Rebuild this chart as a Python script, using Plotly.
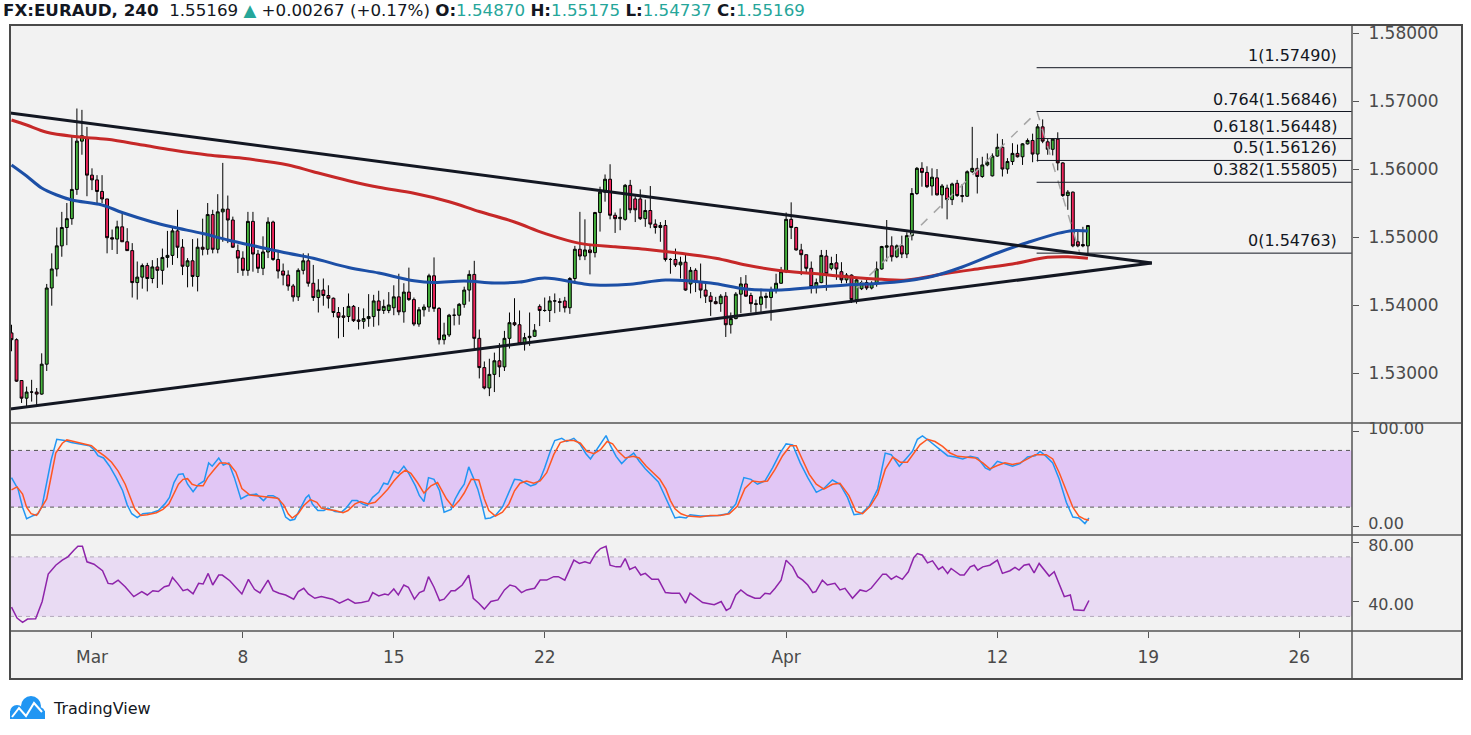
import plotly.graph_objects as go

# ------------------------------------------------------------------ data
symbol = "FX:EURAUD"
interval = "240"
hdr_change = 0.00267
hdr_pct = 0.17

opens = [
    1.5359, 1.5349, 1.5289, 1.5263, 1.5272, 1.5272, 1.5269, 1.5313, 1.5425, 1.5453,
    1.5487, 1.5514, 1.5527, 1.5570, 1.5641, 1.5645, 1.5591, 1.5584, 1.5567, 1.5556,
    1.5499, 1.5497, 1.5515, 1.5493, 1.5480, 1.5433, 1.5441, 1.5458, 1.5439, 1.5456,
    1.5451, 1.5470, 1.5473, 1.5509, 1.5485, 1.5457, 1.5465, 1.5442, 1.5485, 1.5482,
    1.5533, 1.5482, 1.5537, 1.5541, 1.5525, 1.5480, 1.5469, 1.5451, 1.5523, 1.5475,
    1.5454, 1.5478, 1.5522, 1.5467, 1.5450, 1.5444, 1.5428, 1.5412, 1.5451, 1.5465,
    1.5432, 1.5411, 1.5422, 1.5414, 1.5410, 1.5389, 1.5384, 1.5383, 1.5398, 1.5378,
    1.5376, 1.5380, 1.5383, 1.5406, 1.5392, 1.5392, 1.5396, 1.5412, 1.5390, 1.5419,
    1.5408, 1.5372, 1.5393, 1.5397, 1.5443, 1.5395, 1.5349, 1.5356, 1.5385, 1.5385,
    1.5401, 1.5422, 1.5445, 1.5351, 1.5308, 1.5278, 1.5298, 1.5318, 1.5309, 1.5351,
    1.5374, 1.5371, 1.5343, 1.5352, 1.5354, 1.5398, 1.5392, 1.5392, 1.5406, 1.5405,
    1.5406, 1.5396, 1.5439, 1.5482, 1.5472, 1.5481, 1.5477, 1.5536, 1.5566, 1.5585,
    1.5532, 1.5527, 1.5526, 1.5576, 1.5556, 1.5556, 1.5527, 1.5539, 1.5519, 1.5514,
    1.5517, 1.5467, 1.5467, 1.5459, 1.5463, 1.5431, 1.5451, 1.5434, 1.5422, 1.5413,
    1.5405, 1.5402, 1.5413, 1.5371, 1.5380, 1.5416, 1.5431, 1.5414, 1.5402, 1.5401,
    1.5411, 1.5411, 1.5423, 1.5432, 1.5449, 1.5526, 1.5514, 1.5481, 1.5474, 1.5454,
    1.5427, 1.5433, 1.5472, 1.5454, 1.5462, 1.5449, 1.5437, 1.5444, 1.5408, 1.5424,
    1.5433, 1.5425, 1.5432, 1.5453, 1.5485, 1.5487, 1.5471, 1.5487, 1.5475, 1.5502,
    1.5564, 1.5601, 1.5595, 1.5575, 1.5587, 1.5562, 1.5572, 1.5555, 1.5579, 1.5561,
    1.5560, 1.5596, 1.5601, 1.5589, 1.5606, 1.5590, 1.5619, 1.5632, 1.5600, 1.5611,
    1.5623, 1.5618, 1.5637, 1.5642, 1.5622, 1.5662, 1.5640, 1.5629, 1.5644, 1.5609,
    1.5561, 1.5566, 1.5493, 1.5489, 1.54870,
]
highs = [
    1.5371, 1.5351, 1.5289, 1.5280, 1.5290, 1.5278, 1.5329, 1.5431, 1.5476, 1.5514,
    1.5537, 1.5550, 1.5649, 1.5689, 1.5687, 1.5662, 1.5601, 1.5591, 1.5591, 1.5556,
    1.5511, 1.5524, 1.5535, 1.5513, 1.5491, 1.5464, 1.5461, 1.5462, 1.5466, 1.5469,
    1.5483, 1.5509, 1.5515, 1.5540, 1.5497, 1.5469, 1.5497, 1.5498, 1.5527, 1.5550,
    1.5540, 1.5563, 1.5609, 1.5561, 1.5530, 1.5489, 1.5479, 1.5537, 1.5537, 1.5481,
    1.5501, 1.5529, 1.5524, 1.5481, 1.5461, 1.5451, 1.5431, 1.5454, 1.5476, 1.5476,
    1.5459, 1.5438, 1.5439, 1.5429, 1.5411, 1.5397, 1.5397, 1.5417, 1.5400, 1.5397,
    1.5395, 1.5416, 1.5415, 1.5421, 1.5408, 1.5419, 1.5429, 1.5446, 1.5432, 1.5455,
    1.5411, 1.5397, 1.5401, 1.5446, 1.5470, 1.5397, 1.5374, 1.5387, 1.5395, 1.5403,
    1.5427, 1.5451, 1.5465, 1.5364, 1.5317, 1.5321, 1.5330, 1.5344, 1.5362, 1.5389,
    1.5410, 1.5392, 1.5359, 1.5389, 1.5372, 1.5401, 1.5411, 1.5413, 1.5417, 1.5410,
    1.5412, 1.5441, 1.5487, 1.5537, 1.5526, 1.5490, 1.5537, 1.5574, 1.5592, 1.5607,
    1.5536, 1.5542, 1.5578, 1.5584, 1.5560, 1.5570, 1.5555, 1.5575, 1.5526, 1.5522,
    1.5525, 1.5469, 1.5483, 1.5471, 1.5476, 1.5456, 1.5454, 1.5461, 1.5434, 1.5419,
    1.5412, 1.5416, 1.5419, 1.5389, 1.5419, 1.5441, 1.5444, 1.5418, 1.5408, 1.5424,
    1.5418, 1.5427, 1.5446, 1.5456, 1.5536, 1.5551, 1.5515, 1.5490, 1.5474, 1.5464,
    1.5439, 1.5481, 1.5481, 1.5471, 1.5475, 1.5463, 1.5447, 1.5445, 1.5440, 1.5436,
    1.5437, 1.5435, 1.5464, 1.5487, 1.5525, 1.5501, 1.5489, 1.5502, 1.5507, 1.5572,
    1.5603, 1.5610, 1.5604, 1.5601, 1.5600, 1.5578, 1.5577, 1.5580, 1.5584, 1.5578,
    1.5598, 1.5662, 1.5616, 1.5618, 1.5623, 1.5623, 1.5652, 1.5644, 1.5616, 1.5638,
    1.5636, 1.5638, 1.5645, 1.5652, 1.5666, 1.5673, 1.5644, 1.5645, 1.5654, 1.5610,
    1.5569, 1.5567, 1.5508, 1.5515, 1.55175,
]
lows = [
    1.5332, 1.5287, 1.5256, 1.5251, 1.5258, 1.5253, 1.5268, 1.5303, 1.5399, 1.5442,
    1.5471, 1.5488, 1.5518, 1.5562, 1.5621, 1.5560, 1.5569, 1.5547, 1.5550, 1.5476,
    1.5481, 1.5475, 1.5493, 1.5480, 1.5411, 1.5408, 1.5424, 1.5420, 1.5432, 1.5425,
    1.5430, 1.5455, 1.5459, 1.5469, 1.5444, 1.5426, 1.5427, 1.5420, 1.5473, 1.5474,
    1.5476, 1.5476, 1.5493, 1.5491, 1.5484, 1.5447, 1.5443, 1.5443, 1.5449, 1.5447,
    1.5444, 1.5469, 1.5465, 1.5439, 1.5429, 1.5421, 1.5405, 1.5406, 1.5445, 1.5427,
    1.5406, 1.5389, 1.5399, 1.5395, 1.5382, 1.5351, 1.5353, 1.5375, 1.5375, 1.5364,
    1.5365, 1.5368, 1.5368, 1.5370, 1.5387, 1.5388, 1.5385, 1.5385, 1.5374, 1.5406,
    1.5369, 1.5368, 1.5383, 1.5390, 1.5390, 1.5342, 1.5342, 1.5353, 1.5370, 1.5371,
    1.5396, 1.5405, 1.5336, 1.5292, 1.5276, 1.5266, 1.5272, 1.5294, 1.5303, 1.5336,
    1.5369, 1.5342, 1.5333, 1.5340, 1.5353, 1.5369, 1.5390, 1.5375, 1.5388, 1.5390,
    1.5389, 1.5387, 1.5431, 1.5466, 1.5466, 1.5445, 1.5470, 1.5508, 1.5552, 1.5526,
    1.5506, 1.5510, 1.5524, 1.5535, 1.5522, 1.5525, 1.5515, 1.5513, 1.5505, 1.5493,
    1.5464, 1.5446, 1.5456, 1.5439, 1.5421, 1.5417, 1.5419, 1.5410, 1.5403, 1.5384,
    1.5401, 1.5390, 1.5353, 1.5358, 1.5379, 1.5388, 1.5412, 1.5389, 1.5389, 1.5390,
    1.5395, 1.5377, 1.5417, 1.5431, 1.5447, 1.5497, 1.5480, 1.5444, 1.5446, 1.5417,
    1.5417, 1.5432, 1.5421, 1.5451, 1.5437, 1.5432, 1.5432, 1.5403, 1.5402, 1.5422,
    1.5422, 1.5423, 1.5427, 1.5452, 1.5464, 1.5464, 1.5469, 1.5469, 1.5469, 1.5495,
    1.5562, 1.5574, 1.5572, 1.5561, 1.5561, 1.5542, 1.5526, 1.5547, 1.5559, 1.5551,
    1.5559, 1.5594, 1.5564, 1.5587, 1.5604, 1.5589, 1.5618, 1.5589, 1.5593, 1.5606,
    1.5617, 1.5606, 1.5636, 1.5610, 1.5611, 1.5638, 1.5621, 1.5620, 1.5598, 1.5559,
    1.5540, 1.5485, 1.5485, 1.5485, 1.54737,
]
closes = [
    1.5349, 1.5288, 1.5263, 1.5272, 1.5272, 1.5269, 1.5313, 1.5425, 1.5453, 1.5487,
    1.5514, 1.5527, 1.5570, 1.5641, 1.5649, 1.5591, 1.5584, 1.5567, 1.5556, 1.5499,
    1.5497, 1.5515, 1.5493, 1.5480, 1.5433, 1.5441, 1.5458, 1.5439, 1.5456, 1.5451,
    1.5470, 1.5473, 1.5509, 1.5485, 1.5457, 1.5465, 1.5442, 1.5485, 1.5482, 1.5533,
    1.5482, 1.5537, 1.5541, 1.5525, 1.5485, 1.5469, 1.5451, 1.5523, 1.5475, 1.5454,
    1.5478, 1.5522, 1.5467, 1.5450, 1.5444, 1.5428, 1.5412, 1.5451, 1.5465, 1.5432,
    1.5411, 1.5422, 1.5414, 1.5410, 1.5389, 1.5382, 1.5382, 1.5398, 1.5377, 1.5376,
    1.5380, 1.5383, 1.5406, 1.5392, 1.5398, 1.5400, 1.5412, 1.5390, 1.5419, 1.5408,
    1.5372, 1.5393, 1.5397, 1.5443, 1.5395, 1.5349, 1.5356, 1.5385, 1.5385, 1.5401,
    1.5422, 1.5445, 1.5351, 1.5308, 1.5278, 1.5298, 1.5318, 1.5309, 1.5351, 1.5374,
    1.5371, 1.5343, 1.5352, 1.5354, 1.5363, 1.5392, 1.5392, 1.5406, 1.5406, 1.5404,
    1.5396, 1.5439, 1.5482, 1.5472, 1.5481, 1.5477, 1.5536, 1.5566, 1.5585, 1.5532,
    1.5527, 1.5529, 1.5576, 1.5540, 1.5540, 1.5527, 1.5539, 1.5519, 1.5514, 1.5517,
    1.5467, 1.5467, 1.5459, 1.5463, 1.5422, 1.5451, 1.5434, 1.5422, 1.5413, 1.5405,
    1.5402, 1.5413, 1.5371, 1.5380, 1.5416, 1.5431, 1.5413, 1.5402, 1.5401, 1.5412,
    1.5413, 1.5423, 1.5432, 1.5449, 1.5526, 1.5514, 1.5481, 1.5474, 1.5454, 1.5427,
    1.5433, 1.5473, 1.5446, 1.5461, 1.5453, 1.5437, 1.5444, 1.5408, 1.5437, 1.5433,
    1.5425, 1.5432, 1.5453, 1.5486, 1.5487, 1.5471, 1.5487, 1.5475, 1.5502, 1.5564,
    1.5601, 1.5595, 1.5574, 1.5588, 1.5562, 1.5575, 1.5555, 1.5578, 1.5561, 1.5560,
    1.5596, 1.5601, 1.5589, 1.5606, 1.5610, 1.5619, 1.5632, 1.5600, 1.5611, 1.5623,
    1.5618, 1.5637, 1.5642, 1.5622, 1.5662, 1.5641, 1.5629, 1.5644, 1.5609, 1.5561,
    1.5566, 1.5487, 1.5487, 1.5487, 1.55169,
]

# moving averages (bar index, price)
ma_blue = [(0, 1.56059), (3, 1.55897), (6, 1.55721), (9, 1.55618), (12, 1.55544), (18, 1.55471),
           (22, 1.55360), (28, 1.55221), (32, 1.55147), (38, 1.55051), (43, 1.54956), (49, 1.54857),
           (55, 1.54760), (60, 1.54687), (67, 1.54551), (73, 1.54471), (80, 1.54357), (84, 1.54331),
           (90, 1.54353), (96, 1.54324), (101, 1.54338), (106, 1.54397), (113, 1.54319), (116, 1.54294),
           (123, 1.54304), (130, 1.54368), (139, 1.54324), (146, 1.54235), (153, 1.54221), (159, 1.54257),
           (166, 1.54294), (172, 1.54316), (178, 1.54357), (183, 1.54419), (189, 1.54559), (196, 1.54765),
           (202, 1.54919), (208, 1.55054), (211, 1.55093), (214, 1.55088)]
ma_red = [(0, 1.56721), (3, 1.56647), (7, 1.56540), (13, 1.56475), (19, 1.56437), (26, 1.56353),
          (32, 1.56279), (39, 1.56206), (46, 1.56157), (55, 1.56059), (60, 1.55960), (67, 1.55828),
          (73, 1.55731), (80, 1.55643), (87, 1.55519), (93, 1.55375), (100, 1.55221), (106, 1.55054),
          (113, 1.54907), (120, 1.54857), (126, 1.54819), (133, 1.54760), (140, 1.54687), (146, 1.54588),
          (153, 1.54504), (159, 1.54466), (166, 1.54416), (173, 1.54378), (178, 1.54368), (186, 1.54466),
          (193, 1.54540), (199, 1.54603), (206, 1.54701), (210, 1.54710), (214, 1.54687)]

# stochastic %K / %D (bar index, value)
stoch_k = [(0, 51.2), (1.3, 39.0), (2.2, 19.9), (3.0, 7.7), (4.4, 11.2), (5.3, 13.0), (6.1, 21.7), (7.0, 44.2),
           (7.9, 70.3), (9.0, 91.8), (10.6, 90.4), (11.9, 88.3), (13.7, 86.9), (15.5, 84.9), (16.4, 80.7),
           (17.2, 74.4), (18.3, 72.0), (19.5, 63.3), (20.8, 51.2), (22.1, 37.3), (23.0, 22.4), (23.9, 13.0),
           (25.0, 8.8), (26.1, 13.0), (27.9, 14.0), (29.2, 16.4), (30.5, 23.4), (31.4, 30.3), (32.3, 45.9),
           (33.2, 54.6), (34.1, 55.3), (35.0, 44.2), (36.1, 36.2), (37.2, 44.2), (38.3, 47.7), (39.2, 66.8),
           (39.9, 63.3), (41.2, 72.0), (42.1, 64.4), (43.2, 66.8), (44.3, 51.2), (45.6, 28.6), (47.0, 32.8),
           (48.7, 33.8), (50.1, 26.9), (51.0, 32.1), (52.0, 32.1), (53.2, 28.6), (54.5, 9.5), (55.4, 6.0),
           (56.3, 7.1), (57.4, 18.2), (58.5, 29.6), (59.1, 32.8), (59.8, 23.4), (60.9, 16.4), (62.1, 16.4),
           (62.9, 18.9), (64.3, 15.4), (65.6, 14.7), (66.5, 18.9), (67.7, 26.9), (68.7, 26.9), (69.8, 23.4),
           (70.7, 21.7), (71.8, 30.3), (73.0, 35.6), (74.0, 45.3), (74.8, 44.2), (76.0, 58.1), (76.9, 55.7),
           (78.0, 63.3), (78.9, 56.4), (80.3, 42.5), (81.1, 32.1), (82.0, 25.8), (82.9, 51.2), (84.0, 49.4),
           (85.1, 37.3), (86.0, 14.7), (87.4, 17.5), (88.2, 28.6), (89.1, 37.3), (90.0, 44.2), (90.9, 62.6),
           (91.8, 51.2), (92.7, 39.0), (93.5, 23.4), (94.2, 7.8), (95.2, 8.5), (96.2, 11.2), (97.6, 19.9),
           (98.4, 29.3), (100.0, 49.4), (101.1, 48.7), (102.4, 45.3), (103.2, 42.5), (104.2, 44.2),
           (105.1, 49.4), (106.0, 61.6), (107.1, 78.9), (108.0, 90.4), (109.4, 92.8), (110.4, 89.4),
           (111.8, 92.8), (113.1, 85.9), (114.2, 76.5), (115.1, 71.0), (116.2, 80.0), (117.1, 87.6),
           (118.2, 95.6), (119.0, 85.9), (120.2, 73.7), (121.3, 66.1), (122.4, 72.0), (123.7, 77.2),
           (124.8, 68.5), (126.0, 60.5), (127.5, 52.9), (128.6, 46.7), (129.8, 32.8), (130.7, 21.7),
           (131.9, 8.5), (132.8, 9.5), (134.1, 8.5), (134.9, 11.9), (136.9, 10.5), (138.4, 10.5),
           (140.4, 11.2), (142.4, 13.0), (144.0, 23.4), (145.6, 51.2), (147.0, 49.4), (148.3, 44.2),
           (149.8, 47.7), (151.3, 61.6), (152.8, 77.2), (154.0, 86.9), (155.3, 85.9), (156.8, 66.8),
           (158.3, 51.2), (160.0, 35.6), (161.5, 39.7), (163.2, 48.7), (164.7, 44.2), (166.2, 30.3),
           (167.5, 11.9), (168.9, 13.0), (170.5, 20.9), (172.2, 39.0), (173.7, 77.2), (174.9, 75.5),
           (176.5, 63.3), (177.8, 71.0), (179.1, 78.9), (180.1, 91.8), (181.1, 95.3), (182.6, 89.4),
           (184.6, 80.7), (186.1, 74.4), (187.6, 73.0), (189.1, 71.0), (190.6, 73.7), (192.1, 72.0),
           (193.6, 61.6), (194.5, 59.2), (196.0, 68.5), (197.5, 66.1), (199.0, 63.3), (200.5, 66.1),
           (202.0, 73.0), (203.5, 74.4), (204.5, 78.9), (205.7, 73.7), (207.0, 66.8), (208.3, 49.4),
           (209.7, 25.1), (211.0, 9.5), (212.2, 8.5), (213.4, 2.6), (214.2, 8.5)]
stoch_d = [(0, 38.3), (1.1, 41.4), (2.2, 33.8), (3.0, 19.9), (3.9, 13.0), (5.0, 11.2), (5.9, 18.9), (7.0, 28.6),
           (7.9, 52.9), (8.8, 77.2), (10.1, 87.6), (11.0, 91.1), (12.4, 89.4), (14.1, 87.6), (15.9, 84.9),
           (17.2, 79.0), (18.6, 73.7), (19.9, 67.5), (21.2, 58.1), (22.6, 44.2), (23.6, 30.3), (24.5, 18.2),
           (25.7, 11.2), (27.0, 11.9), (28.8, 14.0), (30.1, 17.5), (31.3, 23.4), (32.3, 33.8), (33.2, 44.2),
           (34.1, 49.4), (35.0, 50.1), (35.9, 44.2), (36.9, 42.5), (38.1, 42.5), (39.0, 51.2), (40.3, 59.9),
           (41.4, 66.8), (42.5, 66.8), (43.4, 65.1), (44.6, 57.1), (45.8, 39.7), (47.4, 32.8), (48.7, 32.1),
           (50.1, 31.0), (51.4, 30.3), (52.9, 29.3), (54.1, 22.4), (55.0, 13.0), (55.8, 8.5), (57.0, 13.0),
           (58.1, 21.7), (59.4, 27.9), (60.7, 25.1), (61.6, 18.9), (62.9, 17.5), (64.3, 16.4), (65.9, 14.0),
           (66.9, 16.4), (68.3, 23.4), (69.4, 25.8), (70.9, 23.4), (72.3, 25.1), (73.6, 32.1), (74.8, 39.0),
           (76.0, 47.7), (77.2, 54.6), (78.3, 59.2), (79.4, 55.7), (80.7, 46.0), (82.0, 34.9), (83.4, 42.5),
           (84.7, 46.0), (85.6, 37.3), (86.5, 28.6), (87.8, 19.9), (89.0, 26.9), (90.0, 34.9), (91.4, 49.4),
           (92.9, 48.7), (94.0, 28.6), (94.9, 16.4), (96.2, 10.5), (97.6, 14.7), (98.9, 23.4), (100.0, 37.3),
           (101.1, 45.3), (102.4, 47.7), (103.8, 45.3), (105.1, 47.7), (106.4, 56.4), (107.8, 75.5),
           (109.1, 88.3), (110.4, 90.4), (111.8, 90.4), (113.1, 87.6), (114.4, 79.0), (115.8, 76.5),
           (117.1, 80.7), (118.4, 89.4), (119.5, 86.9), (120.6, 79.0), (122.0, 72.0), (123.6, 73.7),
           (124.8, 72.0), (126.2, 63.3), (127.5, 56.4), (128.9, 49.4), (130.1, 39.0), (131.0, 26.9),
           (131.9, 18.2), (133.1, 13.0), (134.4, 10.5), (136.9, 9.5), (138.9, 11.2), (140.9, 11.2),
           (142.7, 13.0), (144.3, 20.9), (145.8, 39.7), (147.3, 47.7), (148.8, 46.7), (150.3, 47.7),
           (151.8, 59.9), (153.3, 74.4), (154.8, 84.9), (156.0, 84.9), (157.0, 73.0), (158.6, 54.6),
           (160.0, 44.2), (161.5, 39.0), (163.2, 44.2), (164.7, 45.3), (166.5, 32.1), (167.9, 15.4),
           (169.2, 13.0), (170.7, 20.9), (172.2, 33.8), (173.7, 59.9), (175.2, 73.0), (176.7, 67.5),
           (178.1, 67.5), (179.4, 76.5), (180.6, 85.9), (182.1, 91.8), (183.6, 89.4), (185.1, 84.2),
           (186.6, 77.2), (188.1, 73.7), (189.6, 73.0), (191.6, 72.0), (193.1, 66.8), (194.5, 60.5),
           (196.0, 64.0), (197.5, 66.8), (199.0, 65.1), (200.5, 66.8), (202.0, 71.0), (203.5, 75.5),
           (205.7, 75.5), (207.0, 71.0), (208.3, 56.4), (209.7, 37.3), (211.0, 19.9), (212.2, 10.5),
           (213.4, 7.1), (214.2, 6.0)]

# RSI (bar index, value)
rsi = [(0, 36.2), (1.1, 28.9), (2.2, 26.0), (3.2, 28.2), (4.8, 28.4), (6.1, 40.0), (7.3, 58.4), (8.8, 64.4),
       (10.1, 67.8), (11.2, 70.0), (12.4, 74.4), (13.2, 77.1), (14.1, 77.1), (15.0, 66.7), (16.4, 65.1),
       (18.1, 60.7), (19.2, 52.2), (20.1, 51.8), (21.2, 54.4), (22.6, 50.0), (24.3, 43.3), (25.9, 46.7),
       (27.0, 44.4), (28.1, 47.3), (29.2, 46.7), (30.4, 50.0), (31.3, 50.7), (32.0, 56.2), (33.0, 52.2),
       (34.1, 47.3), (35.0, 48.2), (36.1, 45.1), (37.2, 52.2), (38.1, 51.8), (39.1, 58.9), (40.0, 51.1),
       (41.2, 57.8), (41.9, 57.8), (43.4, 54.0), (44.8, 48.9), (45.8, 45.1), (47.1, 54.9), (48.3, 48.2),
       (49.4, 45.8), (51.0, 54.4), (52.0, 47.3), (53.2, 45.6), (54.5, 44.4), (56.1, 41.6), (57.0, 46.7),
       (58.1, 48.9), (59.0, 45.1), (60.3, 42.2), (61.6, 43.3), (63.8, 41.6), (65.2, 38.9), (66.9, 41.6),
       (68.3, 38.9), (69.6, 39.3), (71.0, 40.4), (71.8, 46.0), (73.0, 43.8), (74.2, 45.1), (74.9, 44.4),
       (76.0, 48.4), (76.9, 44.4), (78.0, 51.1), (78.9, 49.6), (80.1, 41.6), (81.1, 46.0), (82.0, 47.3),
       (82.9, 56.7), (84.0, 49.6), (85.1, 40.7), (86.0, 41.6), (87.4, 47.3), (88.2, 47.3), (89.6, 51.1),
       (90.9, 57.8), (91.8, 42.2), (92.9, 38.9), (94.0, 34.9), (95.3, 40.0), (96.7, 41.1), (98.0, 47.8),
       (99.1, 51.1), (100.2, 50.0), (101.4, 46.0), (102.4, 47.8), (104.0, 48.9), (105.1, 54.4),
       (106.4, 54.4), (107.8, 56.7), (108.7, 56.7), (110.0, 54.4), (111.8, 67.8), (112.9, 65.6),
       (114.0, 66.7), (115.0, 65.6), (116.2, 72.7), (117.1, 75.6), (118.2, 77.1), (119.0, 64.4),
       (120.2, 63.3), (121.1, 63.3), (122.0, 68.9), (122.9, 61.6), (124.0, 63.3), (125.1, 57.8),
       (126.0, 58.9), (127.3, 54.9), (128.6, 54.9), (130.0, 46.0), (131.3, 45.6), (132.8, 45.6),
       (134.0, 38.9), (134.9, 45.6), (137.4, 39.3), (139.7, 37.8), (141.1, 40.0), (142.1, 34.0),
       (142.9, 35.6), (144.0, 44.4), (145.0, 47.8), (146.3, 44.4), (147.8, 42.2), (148.8, 42.2),
       (149.8, 45.6), (150.8, 45.1), (151.8, 48.9), (153.0, 54.4), (154.0, 67.8), (155.3, 63.3),
       (156.3, 56.7), (157.3, 54.4), (158.3, 51.1), (159.3, 46.0), (159.9, 46.7), (161.2, 54.4),
       (162.2, 51.1), (163.7, 52.2), (164.7, 47.8), (165.7, 48.9), (167.2, 42.2), (168.7, 47.8),
       (169.9, 46.7), (170.9, 48.9), (173.2, 58.4), (173.9, 58.4), (174.9, 54.9), (175.9, 57.1),
       (177.1, 54.9), (178.3, 60.0), (179.4, 69.6), (180.1, 72.2), (181.1, 71.1), (182.1, 66.0),
       (183.1, 67.3), (184.3, 61.6), (185.1, 63.3), (186.1, 58.9), (186.8, 62.2), (188.6, 57.8),
       (189.4, 57.8), (190.6, 63.3), (191.4, 64.4), (192.1, 61.1), (193.1, 63.3), (194.5, 64.4),
       (196.0, 67.8), (197.0, 58.9), (198.5, 60.7), (199.5, 62.9), (200.3, 61.1), (201.3, 64.4),
       (202.3, 65.1), (203.3, 59.3), (204.3, 65.6), (205.5, 60.0), (206.3, 57.1), (207.3, 60.0),
       (209.3, 43.3), (210.5, 44.4), (211.2, 34.4), (213.2, 34.0), (214.2, 40.7)]

# time axis (bar index of each date label)
tick_vals = [16, 46, 76, 106, 154, 196, 226, 256]
tick_text = ["Mar", "8", "15", "22", "Apr", "12", "19", "26"]
price_ticks = [1.53, 1.54, 1.55, 1.56, 1.57, 1.58]
stoch_ticks = [0, 100]
rsi_ticks = [40, 80]
stoch_levels = [20, 80]
rsi_levels = [30, 70]

# drawings
fib_ratio_labels = ["1", "0.764", "0.618", "0.5", "0.382", "0"]
fib_prices = [1.57490, 1.56846, 1.56448, 1.56126, 1.55805, 1.54763]
fib_start = 203.8
trend_upper = [(-0.3, 1.56824), (226.7, 1.54618)]
trend_lower = [(-0.3, 1.52471), (226.7, 1.54618)]
fib_path = [(168, 1.5425), (203.9, 1.5684), (212.4, 1.5476)]

# ------------------------------------------------------------------ layout geometry
W, H = 1471, 735
L_PX, R_PX, T_PX, B_PX = 10, 1352, 25, 631
AX_R_PX, BOT_PX = 1462, 679
MAIN_B_PX, STOCH_B_PX = 423, 535


def px(v):
    return (v - L_PX) / (R_PX - L_PX)


def py(v):
    return (B_PX - v) / (B_PX - T_PX)


x_range = [-0.3, 266.5]
price_range = [1.52265, 1.58118]
stoch_range = [-9.5, 109.0]
rsi_range = [20.2, 84.7]

DARK = "#131722"
AXC = "#4a4a4a"
BG = "#f2f2f2"
TEAL = "#26a69a"

fig = go.Figure()


def xs(pairs):
    return [p[0] for p in pairs]


def ys(pairs):
    return [p[1] for p in pairs]


fig.add_trace(go.Scatter(x=xs(fib_path), y=ys(fib_path), mode="lines",
                         line=dict(color="#a6a6a6", width=1.5, dash="dash"),
                         xaxis="x", yaxis="y", hoverinfo="skip", showlegend=False))
fig.add_trace(go.Scatter(x=xs(ma_red), y=ys(ma_red), mode="lines",
                         line=dict(color="#c62828", width=3, shape="spline"),
                         xaxis="x", yaxis="y", hoverinfo="skip", showlegend=False))
fig.add_trace(go.Scatter(x=xs(ma_blue), y=ys(ma_blue), mode="lines",
                         line=dict(color="#1c4fa6", width=3, shape="spline"),
                         xaxis="x", yaxis="y", hoverinfo="skip", showlegend=False))

bars = list(range(len(opens)))
fig.add_trace(go.Candlestick(
    x=bars, open=opens, high=highs, low=lows, close=closes,
    increasing=dict(fillcolor="#45b33c", line=dict(color="#000000", width=1)),
    decreasing=dict(fillcolor="#f0245c", line=dict(color="#000000", width=1)),
    whiskerwidth=0, hoverinfo="skip", showlegend=False, xaxis="x", yaxis="y"))

fig.add_trace(go.Scatter(x=xs(stoch_k), y=ys(stoch_k), mode="lines",
                         line=dict(color="#2196f3", width=1.5),
                         xaxis="x", yaxis="y2", hoverinfo="skip", showlegend=False))
fig.add_trace(go.Scatter(x=xs(stoch_d), y=ys(stoch_d), mode="lines",
                         line=dict(color="#ff5722", width=1.5),
                         xaxis="x", yaxis="y2", hoverinfo="skip", showlegend=False))
fig.add_trace(go.Scatter(x=xs(rsi), y=ys(rsi), mode="lines",
                         line=dict(color="#8e24aa", width=1.5),
                         xaxis="x", yaxis="y3", hoverinfo="skip", showlegend=False))

axis_font = dict(family="DejaVu Sans", size=17, color=AXC)
ind_font = dict(family="DejaVu Sans", size=16, color=AXC)
common_y = dict(side="right", anchor="x", showgrid=False, zeroline=False, showline=False,
                ticks="outside", ticklen=6, tickcolor="#555555", tickwidth=1,
                ticklabelstandoff=6, fixedrange=True)

shapes = []
# grey axis areas
shapes.append(dict(type="rect", xref="paper", yref="paper", x0=1, x1=px(AX_R_PX), y0=py(BOT_PX), y1=1,
                   fillcolor=BG, line=dict(width=0), layer="below"))
shapes.append(dict(type="rect", xref="paper", yref="paper", x0=0, x1=1, y0=py(BOT_PX), y1=0,
                   fillcolor=BG, line=dict(width=0), layer="below"))
# indicator bands
shapes.append(dict(type="rect", xref="paper", yref="y2", x0=0, x1=1, y0=stoch_levels[0], y1=stoch_levels[1],
                   fillcolor="#e1c6f5", line=dict(width=0), layer="below"))
shapes.append(dict(type="rect", xref="paper", yref="y3", x0=0, x1=1, y0=rsi_levels[0], y1=rsi_levels[1],
                   fillcolor="#e9dbf3", line=dict(width=0), layer="below"))
for lv in stoch_levels:
    shapes.append(dict(type="line", xref="paper", yref="y2", x0=0, x1=1, y0=lv, y1=lv,
                       line=dict(color="#555555", width=1, dash="4px,4px"), layer="below"))
for lv in rsi_levels:
    shapes.append(dict(type="line", xref="paper", yref="y3", x0=0, x1=1, y0=lv, y1=lv,
                       line=dict(color="#b3a9bb", width=1, dash="4px,4px"), layer="below"))
# trend lines
for tl in (trend_upper, trend_lower):
    shapes.append(dict(type="line", xref="x", yref="y", x0=tl[0][0], y0=tl[0][1], x1=tl[1][0], y1=tl[1][1],
                       line=dict(color=DARK, width=3), layer="above"))
# fib levels
for fp in fib_prices:
    shapes.append(dict(type="line", xref="x", yref="y", x0=fib_start, x1=x_range[1], y0=fp, y1=fp,
                       line=dict(color=DARK, width=1), layer="above"))
# white strip above chart (clips top label)
shapes.append(dict(type="rect", xref="paper", yref="paper", x0=-0.01, x1=1.1, y0=1, y1=py(0),
                   fillcolor="white", line=dict(width=0), layer="above"))
# pane separators and borders
for yy in (MAIN_B_PX, STOCH_B_PX, B_PX):
    shapes.append(dict(type="line", xref="paper", yref="paper", x0=0, x1=px(AX_R_PX), y0=py(yy), y1=py(yy),
                       line=dict(color="#555555", width=1.5), layer="above"))
shapes.append(dict(type="line", xref="paper", yref="paper", x0=1, x1=1, y0=py(BOT_PX), y1=1,
                   line=dict(color="#555555", width=1.5), layer="above"))
shapes.append(dict(type="rect", xref="paper", yref="paper", x0=0, x1=px(AX_R_PX), y0=py(BOT_PX), y1=1,
                   line=dict(color="#4a4a4a", width=2), fillcolor="rgba(0,0,0,0)", layer="above"))

# TradingView logo (cloud)
LOGO_BLUE = "#2196f3"
for cx, cy, r in ((17, 712, 7), (31, 706, 10), (39, 713, 6)):
    shapes.append(dict(type="circle", xref="paper", yref="paper", x0=px(cx - r), x1=px(cx + r),
                       y0=py(cy + r), y1=py(cy - r), fillcolor=LOGO_BLUE, line=dict(width=0), layer="above"))
shapes.append(dict(type="rect", xref="paper", yref="paper", x0=px(10), x1=px(45), y0=py(719), y1=py(711),
                   fillcolor=LOGO_BLUE, line=dict(width=0), layer="above"))
wave = [(12, 717), (19, 708), (26, 716), (34, 703), (42, 712)]
path = "M " + " L ".join(f"{px(a):.5f},{py(b):.5f}" for a, b in wave)
shapes.append(dict(type="path", xref="paper", yref="paper", path=path,
                   line=dict(color="white", width=2), layer="above"))

annotations = []
for lab, fp in zip(fib_ratio_labels, fib_prices):
    annotations.append(dict(xref="paper", yref="y", x=px(1339), y=fp, text=f"{lab}({fp:.5f})",
                            xanchor="right", yanchor="bottom", yshift=1, showarrow=False,
                            font=dict(family="DejaVu Sans", size=16, color=DARK)))

o, h, l, c = opens[-1], highs[-1], lows[-1], closes[-1]
hdr = (f"<b>{symbol}, {interval}</b>  {c:.5f} <span style='color:{TEAL}'>▲</span> "
       f"+{hdr_change:.5f} (+{hdr_pct:.2f}%) "
       f"<b>O:</b><span style='color:{TEAL}'>{o:.5f}</span> "
       f"<b>H:</b><span style='color:{TEAL}'>{h:.5f}</span> "
       f"<b>L:</b><span style='color:{TEAL}'>{l:.5f}</span> "
       f"<b>C:</b><span style='color:{TEAL}'>{c:.5f}</span>")
annotations.append(dict(xref="paper", yref="paper", x=px(1), y=py(10), text=hdr, xanchor="left",
                        yanchor="middle", showarrow=False,
                        font=dict(family="DejaVu Sans", size=16.7, color=DARK)))
annotations.append(dict(xref="paper", yref="paper", x=px(51), y=py(708), text="TradingView",
                        xanchor="left", yanchor="middle", showarrow=False,
                        font=dict(family="DejaVu Sans", size=16, color=DARK)))

fig.update_layout(
    width=W, height=H,
    margin=dict(l=L_PX, r=W - R_PX, t=T_PX, b=H - B_PX, pad=0),
    paper_bgcolor="white", plot_bgcolor=BG, showlegend=False,
    font=dict(family="DejaVu Sans", color=DARK),
    boxgap=0.18,
    xaxis=dict(domain=[0, 1], range=x_range, anchor="y3", tickmode="array", tickvals=tick_vals,
               ticktext=tick_text, ticks="outside", ticklen=6, tickcolor="#555555", showgrid=False,
               zeroline=False, showline=False, tickfont=axis_font, ticklabelstandoff=5,
               rangeslider=dict(visible=False), fixedrange=True),
    yaxis=dict(domain=[py(MAIN_B_PX), 1], range=price_range, tickmode="array", tickvals=price_ticks,
               ticktext=[f"{v:.5f}" for v in price_ticks], tickfont=axis_font, **common_y),
    yaxis2=dict(domain=[py(STOCH_B_PX), py(MAIN_B_PX)], range=stoch_range, tickmode="array",
                tickvals=stoch_ticks, ticktext=[f"{v:.2f}" for v in stoch_ticks], tickfont=ind_font,
                ticklabelshift=-3, **common_y),
    yaxis3=dict(domain=[0, py(STOCH_B_PX)], range=rsi_range, tickmode="array", tickvals=rsi_ticks,
                ticktext=[f"{v:.2f}" for v in rsi_ticks], tickfont=ind_font, ticklabelshift=3,
                **common_y),
    shapes=shapes, annotations=annotations,
)

fig.write_html("out.html", config={"displayModeBar": False, "staticPlot": True})

# remove the browser's default page margin so the figure sits at the window's top-left corner
with open("out.html", "r", encoding="utf-8") as fh:
    page = fh.read()
page = page.replace("<head>", "<head><style>html,body{margin:0;padding:0;overflow:hidden;}</style>", 1)
with open("out.html", "w", encoding="utf-8") as fh:
    fh.write(page)
